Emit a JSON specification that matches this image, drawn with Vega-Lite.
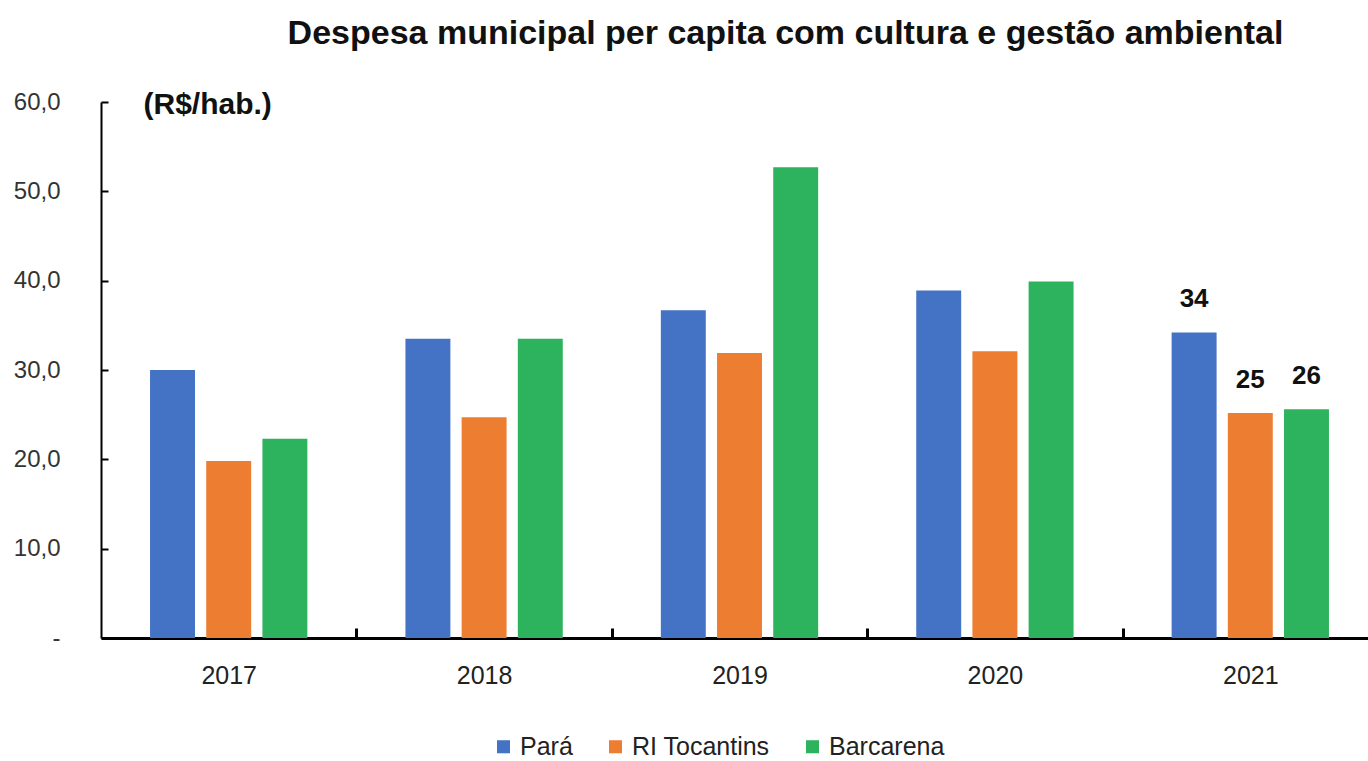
{
  "$schema": "https://vega.github.io/schema/vega-lite/v6.json",
  "autosize": {"type": "none"},
  "padding": {"left": 101, "top": 102, "right": 0, "bottom": 123},
  "width": 1277,
  "height": 536,
  "background": "white",
  "title": {
    "text": "Despesa municipal per capita com cultura e gestão ambiental",
    "font": "Liberation Sans",
    "fontSize": 34,
    "fontWeight": "bold",
    "color": "#111111",
    "anchor": "middle",
    "dx": 46,
    "offset": 38
  },
  "data": {
    "values": [
      {"ano": "2017", "serie": "Pará", "valor": 30.0},
      {"ano": "2017", "serie": "RI Tocantins", "valor": 19.8},
      {"ano": "2017", "serie": "Barcarena", "valor": 22.3},
      {"ano": "2018", "serie": "Pará", "valor": 33.5},
      {"ano": "2018", "serie": "RI Tocantins", "valor": 24.7},
      {"ano": "2018", "serie": "Barcarena", "valor": 33.5},
      {"ano": "2019", "serie": "Pará", "valor": 36.7},
      {"ano": "2019", "serie": "RI Tocantins", "valor": 31.9},
      {"ano": "2019", "serie": "Barcarena", "valor": 52.7},
      {"ano": "2020", "serie": "Pará", "valor": 38.9},
      {"ano": "2020", "serie": "RI Tocantins", "valor": 32.1},
      {"ano": "2020", "serie": "Barcarena", "valor": 39.9},
      {"ano": "2021", "serie": "Pará", "valor": 34.2, "rotulo": "34"},
      {"ano": "2021", "serie": "RI Tocantins", "valor": 25.2, "rotulo": "25"},
      {"ano": "2021", "serie": "Barcarena", "valor": 25.6, "rotulo": "26"}
    ]
  },
  "encoding": {
    "x": {
      "field": "ano",
      "type": "nominal",
      "scale": {"paddingInner": 0.384, "paddingOuter": 0.192},
      "axis": {
        "title": null,
        "labelAngle": 0,
        "labelFont": "Liberation Sans",
        "labelFontSize": 25,
        "labelColor": "#222222",
        "labelPadding": 35,
        "labelOffset": -127.7,
        "domainColor": "#000000",
        "domainWidth": 3,
        "ticks": true,
        "tickOffset": 127.7,
        "tickSize": -10,
        "tickWidth": 3,
        "tickColor": "#000000",
        "grid": false
      }
    },
    "xOffset": {
      "field": "serie",
      "type": "nominal",
      "sort": ["Pará", "RI Tocantins", "Barcarena"],
      "scale": {"paddingInner": 0.2, "paddingOuter": 0}
    },
    "y": {
      "field": "valor",
      "type": "quantitative",
      "scale": {"domain": [0, 60], "nice": false},
      "axis": {
        "title": "(R$/hab.)",
        "titleAngle": 0,
        "titleAlign": "left",
        "titleBaseline": "middle",
        "titleX": 42,
        "titleY": 2,
        "titleFont": "Liberation Sans",
        "titleFontSize": 30,
        "titleFontWeight": "bold",
        "titleColor": "#111111",
        "values": [0, 10, 20, 30, 40, 50, 60],
        "labelExpr": "datum.value == 0 ? '-\u00a0\u00a0\u00a0\u00a0' : replace(format(datum.value, '.1f'), '.', ',')",
        "labelFont": "Liberation Sans",
        "labelFontSize": 24,
        "labelColor": "#333333",
        "labelPadding": 48,
        "ticks": true,
        "tickSize": -7,
        "tickColor": "#000000",
        "tickWidth": 2,
        "domainColor": "#000000",
        "domainWidth": 2,
        "grid": false
      }
    }
  },
  "layer": [
    {
      "mark": {"type": "bar"},
      "encoding": {
        "color": {
          "field": "serie",
          "type": "nominal",
          "sort": ["Pará", "RI Tocantins", "Barcarena"],
          "scale": {
            "domain": ["Pará", "RI Tocantins", "Barcarena"],
            "range": ["#4472C4", "#ED7D31", "#2DB35D"]
          },
          "legend": {
            "title": null,
            "orient": "none",
            "direction": "horizontal",
            "legendX": 390,
            "legendY": 632,
            "symbolType": "square",
            "symbolSize": 170,
            "symbolStrokeWidth": 0,
            "labelFont": "Liberation Sans",
            "labelFontSize": 25,
            "labelColor": "#222222",
            "labelOffset": 4,
            "columnPadding": 30
          }
        }
      }
    },
    {
      "transform": [{"filter": "isValid(datum.rotulo)"}],
      "mark": {
        "type": "text",
        "baseline": "bottom",
        "dy": -20,
        "font": "Liberation Sans",
        "fontSize": 26,
        "fontWeight": "bold",
        "color": "#111111"
      },
      "encoding": {
        "text": {"field": "rotulo", "type": "nominal"}
      }
    }
  ],
  "config": {"view": {"stroke": null}}
}
